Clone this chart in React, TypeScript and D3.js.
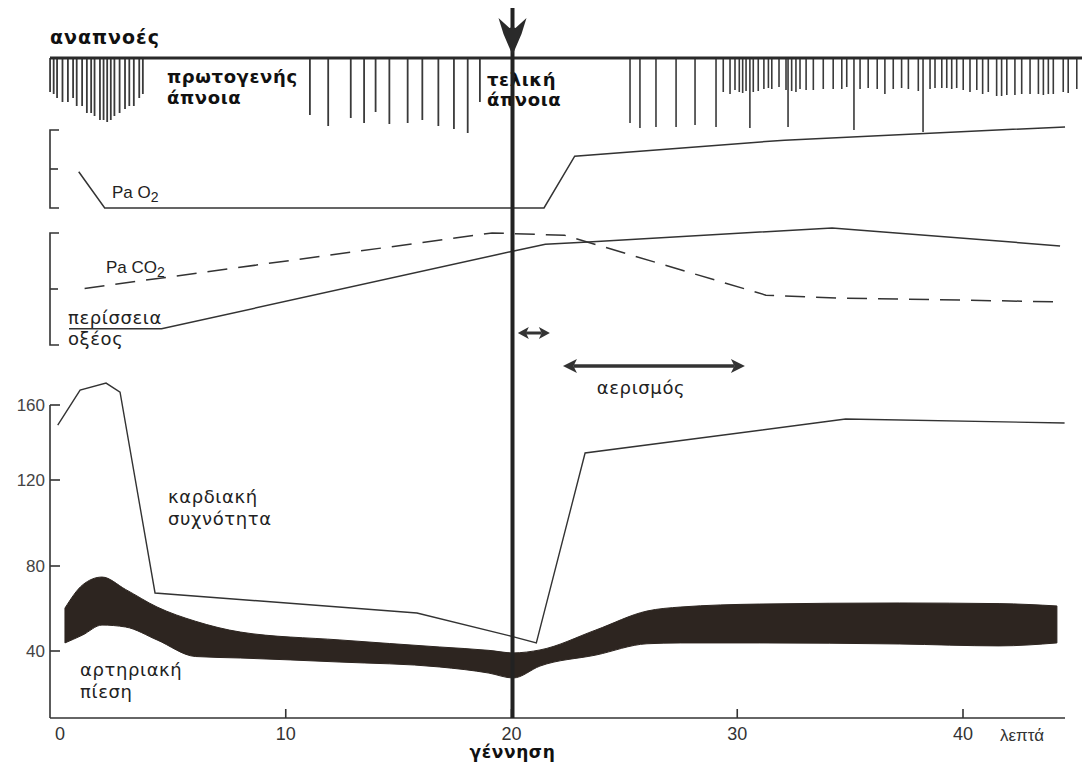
import React from 'react';
import * as d3 from 'd3';

const W = 1087;
const H = 765;

// ---- time axis (minutes) ----
const xTickValues = [0, 10, 20, 30, 40];
const xTickMarks = [10, 20, 30, 40];
const birthTime = 20;

// ---- heart rate (bpm) ----
const hrTicks = [40, 80, 120, 160];
const hrTimes = [-0.1, 0.89, 2.04, 2.66, 4.21, 15.81, 19.93, 21.1, 23.26, 34.8, 44.5];
const hrValues = [149.3, 168, 171.7, 166.9, 67.3, 57.9, 47.1, 43.8, 134.4, 152.5, 150.4];

// ---- arterial pressure band ----
const bpTimes = [0.22, 1.0, 1.86, 2.9, 4.3, 6.0, 8.0, 12.4, 16.8, 19.0, 20.07, 21.26, 23.74, 26.0, 27.5, 31.0, 37.2, 41.6, 44.16];
const bpHigh = [60.2, 71.1, 74.8, 69.0, 60.7, 54.0, 48.9, 45.2, 41.9, 40.3, 39.1, 40.5, 49.9, 58.8, 60.7, 62.1, 62.6, 62.3, 61.2];
const bpLow = [43.8, 47.5, 52.2, 51.3, 45.2, 37.4, 36.7, 34.8, 32.5, 29.6, 27.3, 32.9, 38.1, 43.4, 43.8, 43.8, 43.3, 42.4, 43.8];

// ---- PaO2 (relative units) ----
const o2Times = [0.83, 1.98, 21.44, 22.8, 32.1, 44.52];
const o2Values = [0.93, 0, 0, 1.33, 1.74, 2.08];

// ---- PaCO2 (dashed) and base excess (solid), relative units ----
const co2Times = [1.09, 19.14, 22.35, 31.27, 34.42, 44.3];
const co2Values = [1.01, 2.0, 1.96, 0.89, 0.84, 0.77];
const beTimes = [0.4, 4.5, 20.0, 21.5, 23.4, 34.2, 44.3];
const beValues = [0.29, 0.29, 1.67, 1.8, 1.84, 2.09, 1.77];

// ---- breaths (time in minutes, depth in relative units) ----
const gaspTimes = [-0.44, -0.28, -0.13, 0.11, 0.35, 0.58, 0.74, 0.98, 1.19, 1.38, 1.53, 1.77, 1.93, 2.09, 2.25, 2.41, 2.64, 2.88, 3.07, 3.27, 3.51, 3.67];
const gaspDepths = [34, 36, 40, 44, 44, 40, 48, 48, 55, 55, 58, 62, 62, 64, 62, 58, 55, 51, 48, 48, 40, 36];
const apneaTimes = [11.07, 11.88, 12.88, 13.47, 13.98, 14.59, 15.4, 16.05, 16.76, 17.45, 18.06, 18.6];
const apneaDepths = [57, 68, 60, 65, 54, 66, 65, 62, 68, 71, 75, 44];
const deepTimes = [25.25, 25.69, 26.4, 27.29, 28.13, 29.06, 30.56, 32.25, 35.17, 38.23];
const deepDepths = [65, 70, 69, 69, 67, 69, 70, 69, 72, 74];
const shallowTimes = [29.38, 29.68, 29.9, 30.09, 30.24, 30.39, 30.71, 30.93, 31.18, 31.38, 31.53, 31.85, 32.16, 32.41, 32.6, 32.78, 33.05, 33.37, 33.81, 34.25, 34.63, 34.85, 35.44, 35.8, 36.2, 36.54, 36.91, 37.28, 37.58, 38.02, 38.54, 38.76, 39.06, 39.28, 39.5, 39.72, 40.01, 40.31, 40.61, 40.87, 41.12, 41.49, 41.71, 41.94, 42.3, 42.6, 42.97, 43.34, 43.56, 43.78, 44.0, 44.44, 44.66, 45.04];
const shallowDepths = [34, 36, 32, 34, 35, 33, 34, 33, 31, 30, 31, 29, 32, 33, 34, 31, 32, 32, 31, 31, 31, 29, 31, 30, 31, 36, 31, 30, 31, 33, 31, 30, 30, 30, 31, 30, 32, 34, 32, 36, 34, 38, 38, 37, 37, 36, 36, 36, 37, 36, 36, 34, 35, 31];

// ---- annotation arrows (minutes) ----
const shortArrow = [20.28, 21.7];
const ventArrow = [22.28, 30.34];

const INK = '#333';
const SANS = 'DejaVu Sans, Verdana, sans-serif';
const ARIAL = 'Liberation Sans, Arial, sans-serif';

function DoubleArrow({ x1, x2, y, w, head, hw }: { x1: number; x2: number; y: number; w: number; head: number; hw: number }) {
  const notch = head * 0.25;
  const left = `M${x1},${y} L${x1 + head},${y - hw} L${x1 + head - notch},${y} L${x1 + head},${y + hw} Z`;
  const right = `M${x2},${y} L${x2 - head},${y - hw} L${x2 - head + notch},${y} L${x2 - head},${y + hw} Z`;
  return (
    <g fill="#333" stroke="none">
      <line x1={x1 + head - notch} x2={x2 - head + notch} y1={y} y2={y} stroke="#333" strokeWidth={w} />
      <path d={left} />
      <path d={right} />
    </g>
  );
}

export default function App() {
  const x = d3.scaleLinear().domain([0, 40]).range([60, 963]);
  const yHR = d3.scaleLinear().domain([40, 80, 120, 160]).range([651, 566, 480, 405]);
  const yO2 = d3.scaleLinear().domain([0, 2]).range([208, 130]);
  const yCO2 = d3.scaleLinear().domain([0, 2]).range([345, 233]);
  const yBreath = d3.scaleLinear().domain([0, 80]).range([58, 138]);

  const line = d3.line<[number, number]>();
  const mk = (ts: number[], vs: number[], ys: (v: number) => number) =>
    line(ts.map((t, i) => [x(t), ys(vs[i])] as [number, number])) || '';

  const bpArea = d3
    .area<number>()
    .x((_, i) => x(bpTimes[i]))
    .y0((_, i) => yHR(bpLow[i]))
    .y1((_, i) => yHR(bpHigh[i]))
    .curve(d3.curveMonotoneX)(bpTimes.map((_, i) => i)) || '';

  const axisY = 718;
  const axisLeft = 50;
  const bx = x(birthTime) + 1;

  const strokes = (ts: number[], ds: number[], w: number) =>
    ts.map((t, i) => (
      <line key={i} x1={x(t)} x2={x(t)} y1={yBreath(0)} y2={yBreath(ds[i])} stroke="#3a3a3a" strokeWidth={w} />
    ));

  const bracket = (top: number, mid: number, bot: number) => (
    <g stroke={INK} strokeWidth={1.6} fill="none">
      <path d={`M59,${top} L${axisLeft},${top} L${axisLeft},${bot} L59,${bot}`} />
      <line x1={axisLeft} x2={58} y1={mid} y2={mid} />
    </g>
  );

  const boldText = { fontFamily: SANS, fontWeight: 'bold' as const, fontSize: 18, fill: '#111', letterSpacing: 0.6 };
  const plainText = { fontFamily: SANS, fontSize: 18, fill: '#222', letterSpacing: 0.6 };

  return (
    <svg
      width={W}
      height={H}
      viewBox={`0 0 ${W} ${H}`}
      style={{ position: 'absolute', left: 0, top: 0, background: '#fff' }}
    >
      <rect x={0} y={0} width={W} height={H} fill="#fff" />

      {/* breathing trace */}
      <g>
        {strokes(gaspTimes, gaspDepths, 1.8)}
        {strokes(apneaTimes, apneaDepths, 1.8)}
        {strokes(deepTimes, deepDepths, 1.6)}
        {strokes(shallowTimes, shallowDepths, 1.6)}
        <line x1={50} x2={1082} y1={yBreath(0)} y2={yBreath(0)} stroke="#2a2a2a" strokeWidth={3.2} />
      </g>
      <text x={50} y={44} {...boldText} fontSize={19} letterSpacing={1}>αναπνοές</text>
      <text x={167} y={83} {...boldText}>πρωτογενής</text>
      <text x={167} y={104} {...boldText}>άπνοια</text>
      <text x={487} y={86} {...boldText}>τελική</text>
      <text x={487} y={106} {...boldText}>άπνοια</text>

      {/* PaO2 panel */}
      {bracket(yO2(2), yO2(1), yO2(0))}
      <path d={mk(o2Times, o2Values, yO2)} fill="none" stroke={INK} strokeWidth={1.5} />
      <text x={112} y={198} fontFamily={ARIAL} fontSize={17} fill="#222">
        Pa O<tspan fontSize={14} dy={4}>2</tspan>
      </text>

      {/* PaCO2 + base excess panel */}
      {bracket(yCO2(2), yCO2(1), yCO2(0))}
      <path d={mk(co2Times, co2Values, yCO2)} fill="none" stroke={INK} strokeWidth={1.5} strokeDasharray="20 11" />
      <path d={mk(beTimes, beValues, yCO2)} fill="none" stroke={INK} strokeWidth={1.5} />
      <text x={106} y={273} fontFamily={ARIAL} fontSize={17} fill="#222">
        Pa CO<tspan fontSize={14} dy={4}>2</tspan>
      </text>
      <text x={68} y={324} {...plainText}>περίσσεια</text>
      <text x={68} y={345} {...plainText}>οξέος</text>

      {/* annotation arrows */}
      <DoubleArrow x1={x(shortArrow[0])} x2={x(shortArrow[1])} y={333} w={3} head={11} hw={6} />
      <DoubleArrow x1={x(ventArrow[0])} x2={x(ventArrow[1])} y={366} w={3.5} head={14} hw={7} />
      <text x={641} y={394} textAnchor="middle" {...plainText}>αερισμός</text>

      {/* bottom panel: axes */}
      <g stroke={INK} strokeWidth={1.6} fill="none">
        <line x1={axisLeft} x2={axisLeft} y1={yHR(160)} y2={axisY} />
        <line x1={axisLeft} x2={1065} y1={axisY} y2={axisY} />
        {hrTicks.map((v) => (
          <line key={v} x1={axisLeft} x2={60} y1={yHR(v)} y2={yHR(v)} />
        ))}
        {xTickMarks.map((t) => (
          <line key={t} x1={x(t)} x2={x(t)} y1={axisY} y2={axisY - 9} />
        ))}
      </g>
      {hrTicks.map((v) => (
        <text key={v} x={45} y={yHR(v) + 6} textAnchor="end" fontFamily={ARIAL} fontSize={17} fill="#444">{v}</text>
      ))}
      {xTickValues.map((t) => (
        <text key={t} x={x(t)} y={740} textAnchor="middle" fontFamily={ARIAL} fontSize={18} fill="#333">{t}</text>
      ))}
      <text x={1000} y={741} fontFamily={ARIAL} fontSize={17} fill="#333">λεπτά</text>
      <text x={bx} y={758} textAnchor="middle" {...boldText} fontSize={17}>γέννηση</text>

      {/* heart rate and blood pressure */}
      <path d={bpArea} fill="#2d2520" stroke="#2d2520" strokeWidth={1} />
      <path d={mk(hrTimes, hrValues, yHR)} fill="none" stroke={INK} strokeWidth={1.4} />
      <text x={168} y={503} {...plainText}>καρδιακή</text>
      <text x={168} y={525} {...plainText}>συχνότητα</text>
      <text x={80} y={676} {...plainText}>αρτηριακή</text>
      <text x={80} y={698} {...plainText}>πίεση</text>

      {/* birth marker */}
      <line x1={bx} x2={bx} y1={8} y2={axisY} stroke="#222" strokeWidth={4} />
      <path
        d={`M${bx},55 L${bx - 9},34 L${bx - 14},18 L${bx - 3},28 L${bx},27 L${bx + 3},28 L${bx + 14},18 L${bx + 9},34 Z`}
        fill="#2a2a2a"
      />
    </svg>
  );
}
